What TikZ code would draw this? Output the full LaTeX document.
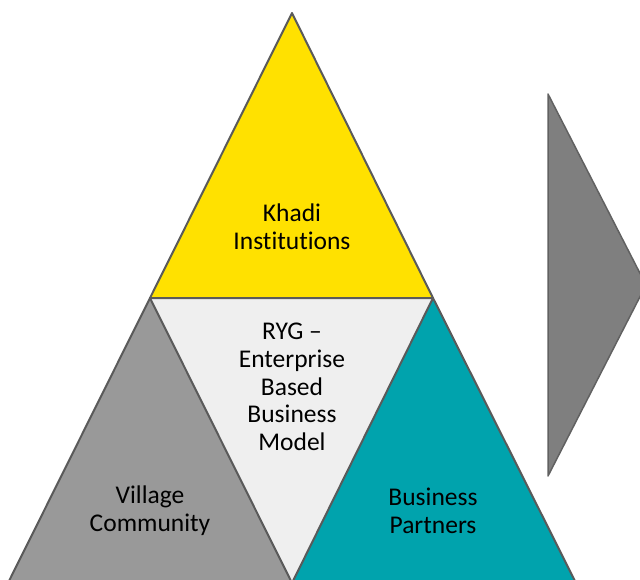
\documentclass[tikz,border=0pt]{standalone}
\usepackage{fontspec}
\setmainfont{Carlito}[Ligatures={NoCommon}]
\definecolor{khadi}{HTML}{FFE100}
\definecolor{village}{HTML}{999999}
\definecolor{partner}{HTML}{00A3AD}
\definecolor{center}{HTML}{EFEFEF}
\definecolor{arrowgray}{HTML}{7F7F7F}
\definecolor{edge}{HTML}{5A5A5A}
\tikzset{
  tri/.style={draw=edge, line width=2pt, line join=round},
  lbl/.style={align=center, font=\fontsize{25.5}{27.7}\selectfont, text=black, inner sep=0pt}
}
\begin{document}
\begin{tikzpicture}[x=1pt,y=-1pt]
\useasboundingbox (0,0) rectangle (640,579);
\clip (0,0) rectangle (640,579);
\coordinate (A) at (292,13);
\coordinate (L) at (150,298);
\coordinate (R) at (433,298);
\coordinate (BL) at (8,583);
\coordinate (BC) at (292,583);
\coordinate (BR) at (576,583);
\coordinate (T1) at (548,94);
\coordinate (T2) at (548,476);
\coordinate (T3) at (646,285);
% triangles
\fill[center] (L) -- (R) -- (BC) -- cycle;
\fill[khadi] (A) -- (L) -- (R) -- cycle;
\fill[village] (L) -- (BC) -- (BL) -- cycle;
\fill[partner] (R) -- (BR) -- (BC) -- cycle;
\draw[tri] (A) -- (L) -- (R) -- cycle;
\draw[tri] (L) -- (BC) -- (BL) -- cycle;
\draw[tri] (R) -- (BR) -- (BC) -- cycle;
% arrow
\draw[fill=arrowgray, draw=edge!80!arrowgray, line width=1.5pt, line join=round] (T1) -- (T3) -- (T2) -- cycle;
% labels
\node[lbl] (khadi) at (292,227) {Khadi\\Institutions};
\node[lbl] (ryg) at (292,387) {RYG –\\Enterprise\\Based\\Business\\Model};
\node[lbl] (village) at (150,511) {Village\\Community};
\node[lbl] (partners) at (433,511) {Business\\Partners};
\end{tikzpicture}
\end{document}
